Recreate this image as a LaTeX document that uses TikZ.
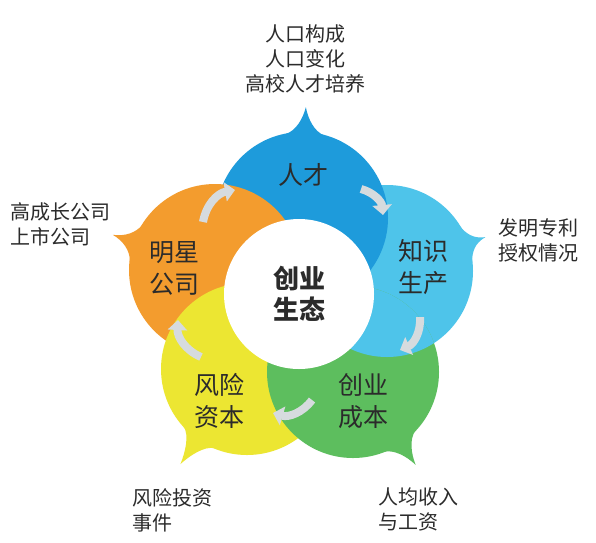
\documentclass[tikz,border=0pt]{standalone}
\usepackage{fontspec}
\setmainfont{Noto Sans CJK SC}
\usetikzlibrary{arrows.meta, calc}
\definecolor{talentblue}{HTML}{1E9BDB}
\definecolor{knowcyan}{HTML}{4EC4EA}
\definecolor{costgreen}{HTML}{5DBE5E}
\definecolor{riskyellow}{HTML}{ECE632}
\definecolor{starorange}{HTML}{F39C2E}
\definecolor{flowgray}{HTML}{D6DBDE}
\definecolor{ink}{HTML}{2B2B2B}
\tikzset{
  petal/.style ={circle, minimum size=172pt, inner sep=0pt, outer sep=0pt},
  core/.style  ={circle, fill=white, minimum size=150pt, inner sep=0pt,
                 align=center, text=ink, font=\fontsize{26pt}{31pt}\selectfont\bfseries},
  tag/.style   ={align=center, inner sep=0pt, text=ink,
                 font=\fontsize{25pt}{32pt}\selectfont},
  note/.style  ={align=left, inner sep=0pt, text=ink,
                 font=\fontsize{20pt}{25pt}\selectfont},
  flow/.style  ={draw=flowgray, line width=8pt,
                 -{Triangle[length=10pt, width=19pt]}},
}
\begin{document}
\begin{tikzpicture}[x=1pt, y=1pt]
  \useasboundingbox (0,0) rectangle (596,-542);
  \fill[white] (0,0) rectangle (596,-542);

  % five petals, drawn so that each covers the one before it
  \node[petal, fill=knowcyan]   (know)    at (387,-271) {};
  \node[petal, fill=talentblue] (talent)  at (302,-218) {};
  \node[petal, fill=starorange] (star)    at (215,-270) {};
  \node[petal, fill=riskyellow] (capital) at (247,-369) {};
  \node[petal, fill=costgreen]  (cost)    at (353,-372) {};
  % close the ring: cyan lies on green
  \begin{scope}
    \clip (cost.center) circle (86);
    \fill[knowcyan] (know.center) circle (86);
  \end{scope}

  % speech-bubble tails
  \foreach \p/\a/\l/\c in {talent/88/111/talentblue, know/19/104/knowcyan,
                           cost/-56/112/costgreen, capital/-125/116/riskyellow,
                           star/161/108/starorange}
    \fill[\c] ($(\p.center)+({\a+13}:85.5)$)
      .. controls ($(\p.center)+({\a+6}:87.5)$) and ($(\p.center)+({\a+1.5}:\l-12)$)
      .. ($(\p.center)+(\a:\l)$)
      .. controls ($(\p.center)+({\a-1.5}:\l-12)$) and ($(\p.center)+({\a-6}:87.5)$)
      .. ($(\p.center)+({\a-13}:85.5)$) -- cycle;

  \node[core] (hub) at (299,-294) {创业\\生态};

  \node[tag] (talentlbl)  at (303,-175) {人才};
  \node[tag] (knowlbl)    at (423,-267) {知识\\生产};
  \node[tag] (costlbl)    at (363,-401) {创业\\成本};
  \node[tag] (capitallbl) at (219,-401) {风险\\资本};
  \node[tag] (starlbl)    at (174,-268) {明星\\公司};

  % gray arrows round the ring
  \coordinate (f1a) at (361,-189); \coordinate (f1b) at (383,-215);
  \coordinate (f2a) at (420,-317); \coordinate (f2b) at (400,-350);
  \coordinate (f3a) at (312,-400); \coordinate (f3b) at (273,-413);
  \coordinate (f4a) at (201,-357); \coordinate (f4b) at (178,-320);
  \coordinate (f5a) at (203,-222); \coordinate (f5b) at (235,-190);
  \foreach \i in {1,...,5}
    \draw[flow] (f\i a) to[bend left=35] (f\i b);

  % outer notes
  \node[note, align=center] (talentnote) at (305,-59)
       {人口构成\\人口变化\\高校人才培养};
  \node[note, anchor=west] (knownote)    at (498,-240) {发明专利\\授权情况};
  \node[note, anchor=west] (costnote)    at (378,-509) {人均收入\\与工资};
  \node[note, anchor=west] (capitalnote) at (132,-510) {风险投资\\事件};
  \node[note, anchor=west] (starnote)    at (10,-224)  {高成长公司\\上市公司};
\end{tikzpicture}
\end{document}
